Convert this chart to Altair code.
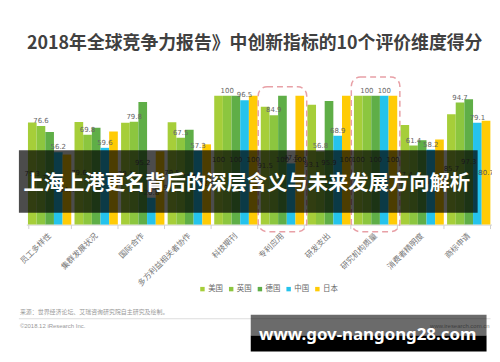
import altair as alt
import pandas as pd

categories = ["员工多样性", "集群发展状况", "国际合作", "多方利益相关者协作", "科技期刊",
              "专利应用", "研发支出", "研究机构质量", "消费者精明度", "商标申请"]
countries = ["美国", "英国", "德国", "中国", "日本"]
usa = [79.3, 79.6, 79.1, 79.5, 100, 91.5, 93.1, 100, 77.4, 85.7]
uk = [76.6, 69.8, 79.8, 67.5, 100, 84.9, 56.8, 100, 61.4, 94.7]
germany = [71.8, 75.1, 95.2, 73.6, 100, 100, 95.9, 100, 65.5, 97.3]
china = [56.2, 59.6, 20.8, 57.3, 96.5, 47.5, 68.9, 100, 58.2, 79.1]
japan = [54.4, 72.3, 56.9, 62.3, 100, 100, 100, 100, 66.0, 80.7]

highlight_cats = ["专利应用", "研究机构质量"]
highlight_top = [107, 114.5]
highlight_bottom = [-5.5, -5.5]

title_text = "2018年全球竞争力报告》中创新指标的10个评价维度得分"
banner_text = "上海上港更名背后的深层含义与未来发展方向解析"
source_text = "来源：世界经济论坛、艾瑞咨询研究院自主研究及绘制。"
copy_text = "©2018.12 iResearch Inc."
site_text = "www.iresearch.com.cn"
watermark_text = "www.gov-nangong28.com"

rows = []
for i, c in enumerate(categories):
    for name, arr in zip(countries, [usa, uk, germany, china, japan]):
        v = arr[i]
        rows.append({"category": c, "country": name, "value": v, "label": f"{v:g}"})
df = pd.DataFrame(rows)

colors = ["#a6ce39", "#8cc63f", "#5fae47", "#25c3ec", "#ffcb05"]
CJK = "Noto Sans CJK SC"

x = alt.X("category:N", sort=categories, title=None,
          scale=alt.Scale(paddingInner=0.07, paddingOuter=0.035),
          axis=alt.Axis(labelAngle=-45, labelAlign="right", labelBaseline="middle",
                        labelFontSize=8, labelColor="#777777", labelFont=CJK,
                        labelPadding=6, domainColor="#d0d0d0", tickColor="#d0d0d0",
                        tickSize=4, tickBand="extent", labelLimit=200))
xo = alt.XOffset("country:N", sort=countries,
                 scale=alt.Scale(paddingInner=0, paddingOuter=0))
yscale = alt.Scale(domain=[0, 100])

bars = alt.Chart(df).mark_bar().encode(
    x=x, xOffset=xo,
    y=alt.Y("value:Q", scale=yscale, axis=None),
    color=alt.Color("country:N", sort=countries,
                    scale=alt.Scale(domain=countries, range=colors),
                    legend=alt.Legend(orient="none", legendX=174, legendY=191,
                                      direction="horizontal", title=None,
                                      symbolType="square", symbolSize=20,
                                      labelFontSize=7.5, labelColor="#666666",
                                      labelFont=CJK, columnPadding=4, labelOffset=2,
                                      symbolStrokeWidth=0)),
)

top_labels = alt.Chart(df).transform_filter(
    alt.FieldOneOfPredicate(field="country", oneOf=["英国", "中国"])
).mark_text(fontSize=7, font="DejaVu Sans", color="#666666", baseline="bottom", dy=-2).encode(
    x=x, xOffset=xo, y=alt.Y("value:Q", scale=yscale, axis=None), text="label:N")

mid_labels = alt.Chart(df).transform_filter(
    alt.FieldOneOfPredicate(field="country", oneOf=["美国", "德国", "日本"])
).transform_calculate(mid="datum.value / 2").mark_text(
    fontSize=7, font="DejaVu Sans", color="#555555", baseline="middle").encode(
    x=x, xOffset=xo, y=alt.Y("mid:Q", scale=yscale, axis=None), text="label:N")

hl = pd.DataFrame({"category": highlight_cats, "top": highlight_top, "bottom": highlight_bottom})
boxes = alt.Chart(hl).mark_bar(size=49, fillOpacity=0, stroke="#e8a0a6", strokeWidth=1.5,
                               strokeDash=[6, 4], cornerRadius=9).encode(
    x=x, y=alt.Y("top:Q", scale=yscale, axis=None), y2="bottom:Q")

one = pd.DataFrame({"k": [0]})

title = alt.Chart(one).mark_text(text=title_text, font=CJK, fontSize=18, fontWeight="bold",
                                 color="#404040", align="center", baseline="middle").encode(
    x=alt.value(230.5), y=alt.value(-52))

banner = alt.Chart(one).mark_rect(color="black", opacity=0.7).encode(
    x=alt.value(-7.5), x2=alt.value(455.5), y=alt.value(55), y2=alt.value(118))
banner_t = alt.Chart(one).mark_text(text=banner_text, font=CJK, fontSize=20.5, fontWeight="bold",
                                    color="white", align="center", baseline="middle").encode(
    x=alt.value(222.5), y=alt.value(89))

source = alt.Chart(one).mark_text(text=source_text, font=CJK, fontSize=6, color="#999999",
                                  align="left", baseline="middle").encode(
    x=alt.value(-6.5), y=alt.value(218))
sep = alt.Chart(one).mark_rule(color="#dddddd", strokeWidth=1).encode(
    x=alt.value(-7.5), x2=alt.value(468.5), y=alt.value(225))
copyr = alt.Chart(one).mark_text(text=copy_text, font="Liberation Sans", fontSize=6, color="#999999",
                                 align="left", baseline="middle").encode(
    x=alt.value(-6.5), y=alt.value(232))
site = alt.Chart(one).mark_text(text=site_text, font="Liberation Sans", fontSize=6, color="#999999",
                                align="right", baseline="middle").encode(
    x=alt.value(467.5), y=alt.value(232))

wm1 = alt.Chart(one).mark_rect(color="black", opacity=0.58).encode(
    x=alt.value(226.5), x2=alt.value(464.5), y=alt.value(221), y2=alt.value(242))
wm2 = alt.Chart(one).mark_rect(color="black").encode(
    x=alt.value(226.5), x2=alt.value(464.5), y=alt.value(242), y2=alt.value(258))
wm_t = alt.Chart(one).mark_text(text=watermark_text, font="Noto Sans", fontSize=17, fontWeight="bold",
                                color="white", align="center", baseline="middle").encode(
    x=alt.value(344.5), y=alt.value(241))

chart = alt.layer(bars, top_labels, mid_labels, boxes, title, banner, banner_t,
                  source, sep, copyr, site, wm1, wm2, wm_t).properties(
    width=470, height=130,
    padding={"left": 18.5, "top": 87, "right": 0, "bottom": 129},
    autosize=alt.AutoSizeParams(type="none"),
    background="white",
).configure_view(stroke=None)

chart.save("out.html", embed_options={"renderer": "svg", "actions": False})
